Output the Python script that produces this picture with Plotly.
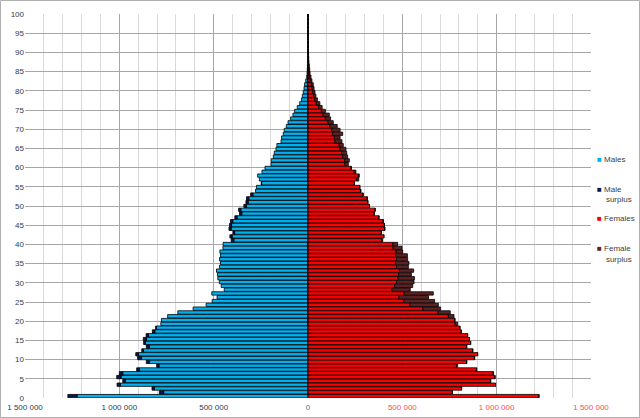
import plotly.graph_objects as go

ages = list(range(101))

# total males per single year of age (0..100)
males = [1.273e6, 0.788e6, 0.827e6, 1.012e6, 0.982e6, 1.014e6, 1.000e6, 0.908e6, 0.802e6, 0.857e6,
         0.903e6, 0.913e6, 0.881e6, 0.857e6, 0.871e6, 0.873e6, 0.858e6, 0.825e6, 0.807e6, 0.780e6,
         0.777e6, 0.744e6, 0.690e6, 0.609e6, 0.540e6, 0.508e6, 0.482e6, 0.510e6, 0.444e6, 0.460e6,
         0.470e6, 0.478e6, 0.480e6, 0.485e6, 0.469e6, 0.464e6, 0.469e6, 0.464e6, 0.467e6, 0.451e6,
         0.450e6, 0.407e6, 0.414e6, 0.398e6, 0.419e6, 0.416e6, 0.411e6, 0.388e6, 0.363e6, 0.368e6,
         0.340e6, 0.329e6, 0.326e6, 0.304e6, 0.278e6, 0.273e6, 0.248e6, 0.258e6, 0.267e6, 0.244e6,
         0.228e6, 0.196e6, 0.195e6, 0.184e6, 0.179e6, 0.170e6, 0.165e6, 0.143e6, 0.140e6, 0.131e6,
         0.126e6, 0.115e6, 0.106e6, 0.092e6, 0.080e6, 0.071e6, 0.057e6, 0.044e6, 0.035e6, 0.030e6,
         0.025e6, 0.021e6, 0.018e6, 0.012e6, 0.007e6, 0.005e6, 0.004e6, 0.003e6, 0.002e6, 0.002e6,
         0.001e6, 0.001e6, 0.001e6, 0.0005e6, 0.0004e6, 0.0003e6, 0.0002e6, 0.0001e6, 0.0001e6, 0.0e6,
         0.0e6]

# total females per single year of age (0..100)
females = [1.224e6, 0.765e6, 0.814e6, 0.994e6, 0.968e6, 0.991e6, 0.982e6, 0.894e6, 0.790e6, 0.841e6,
           0.883e6, 0.899e6, 0.873e6, 0.841e6, 0.862e6, 0.856e6, 0.846e6, 0.812e6, 0.805e6, 0.793e6,
           0.780e6, 0.774e6, 0.754e6, 0.703e6, 0.691e6, 0.671e6, 0.639e6, 0.664e6, 0.542e6, 0.555e6,
           0.562e6, 0.564e6, 0.548e6, 0.560e6, 0.532e6, 0.535e6, 0.528e6, 0.527e6, 0.502e6, 0.498e6,
           0.475e6, 0.393e6, 0.402e6, 0.389e6, 0.407e6, 0.405e6, 0.399e6, 0.376e6, 0.351e6, 0.356e6,
           0.326e6, 0.317e6, 0.314e6, 0.292e6, 0.281e6, 0.276e6, 0.246e6, 0.269e6, 0.272e6, 0.254e6,
           0.230e6, 0.214e6, 0.219e6, 0.210e6, 0.205e6, 0.201e6, 0.187e6, 0.180e6, 0.170e6, 0.184e6,
           0.170e6, 0.155e6, 0.134e6, 0.120e6, 0.113e6, 0.092e6, 0.075e6, 0.063e6, 0.050e6, 0.042e6,
           0.037e6, 0.032e6, 0.028e6, 0.021e6, 0.016e6, 0.011e6, 0.009e6, 0.007e6, 0.005e6, 0.004e6,
           0.003e6, 0.002e6, 0.002e6, 0.001e6, 0.001e6, 0.0008e6, 0.0005e6, 0.0003e6, 0.0002e6, 0.0001e6,
           0.0001e6]

y_ticks = list(range(0, 101, 5))
x_tickvals = [-1500000, -1000000, -500000, 0, 500000, 1000000, 1500000]
x_ticklabels = ["1 500 000", "1 000 000", "500 000", "0", "500 000", "1 000 000", "1 500 000"]
x_tickcolors = ["#2E3B55", "#2E3B55", "#2E3B55", "#5A6A85", "#FF4B4B", "#FF4B4B", "#FF4B4B"]

series_names = ["Males", "Male surplus", "Females", "Female surplus"]
legend_line1 = ["Males", "Male", "Females", "Female"]
legend_line2 = ["&nbsp;", "surplus", "&nbsp;", "surplus"]
series_colors = ["#00B0F0", "#0A1A4A", "#FF0000", "#5E2222"]

common = [min(m, f) for m, f in zip(males, females)]
male_surplus = [m - c for m, c in zip(males, common)]
female_surplus = [f - c for f, c in zip(females, common)]

# 101 age bands share the 0..100 scale
ypos = [(a + 0.5) * 100 / 101 for a in ages]

values = [
    [-v for v in common],
    [-v for v in male_surplus],
    common,
    female_surplus,
]

fig = go.Figure()
for i, (name, col, vals) in enumerate(zip(series_names, series_colors, values)):
    fig.add_trace(go.Bar(
        x=vals, y=ypos, orientation="h", name=name,
        marker=dict(color=col, line=dict(color="#000000", width=0.8)),
        showlegend=False, hoverinfo="skip",
    ))

# legend entries: coloured square glyph + label
for i, (l1, l2, col) in enumerate(zip(legend_line1, legend_line2, series_colors)):
    label = (f"<span style='color:{col}'>■</span> {l1}<br>"
             f"&nbsp;&nbsp;&nbsp;&nbsp;{l2}")
    fig.add_trace(go.Scatter(
        x=[None], y=[None], mode="markers", name=label,
        marker=dict(size=1, color="rgba(0,0,0,0)"),
        legendgroup=f"g{i}", showlegend=True,
    ))

ticktext = [f"<span style='color:{c}'>{t}</span>" for t, c in zip(x_ticklabels, x_tickcolors)]

fig.update_layout(
    width=640, height=418,
    margin=dict(l=25, r=49, t=14, b=20, autoexpand=False),
    paper_bgcolor="white", plot_bgcolor="white",
    barmode="relative", bargap=0.12,
    font=dict(family="Liberation Sans, Arial, sans-serif", size=8, color="#404040"),
    xaxis=dict(
        range=[-1500000, 1500000],
        tickvals=x_tickvals, ticktext=ticktext,
        showgrid=True, gridcolor="#A6A6A6", gridwidth=1,
        minor=dict(dtick=100000, showgrid=True, gridcolor="#D9D9D9", gridwidth=1, tick0=0),
        zeroline=False, showline=False, ticks="", ticklen=0,
        tickfont=dict(size=8), automargin=False, ticklabelstandoff=3,
    ),
    yaxis=dict(
        range=[0, 100], tickvals=y_ticks,
        showgrid=True, gridcolor="#A6A6A6", gridwidth=1,
        zeroline=False, showline=False, ticks="",
        tickfont=dict(size=8, color="#2E3B55"), automargin=False,
    ),
    legend=dict(
        xref="container", yref="container",
        x=557 / 640, y=1 - 147 / 418, xanchor="left", yanchor="top",
        font=dict(size=8, color="#404040"),
        traceorder="grouped", tracegroupgap=6, valign="top",
        itemwidth=30, bgcolor="rgba(0,0,0,0)",
    ),
    shapes=[dict(type="rect", xref="paper", yref="paper",
                 x0=-24.5 / 566, x1=(639.5 - 25) / 566,
                 y0=-19.5 / 384, y1=(417.5 - 20) / 384,
                 line=dict(color="#B0B0B0", width=1), fillcolor="rgba(0,0,0,0)", layer="below")],
)

fig.write_html("out.html", config={"displayModeBar": False},
               post_script="document.body.style.margin='0';")
